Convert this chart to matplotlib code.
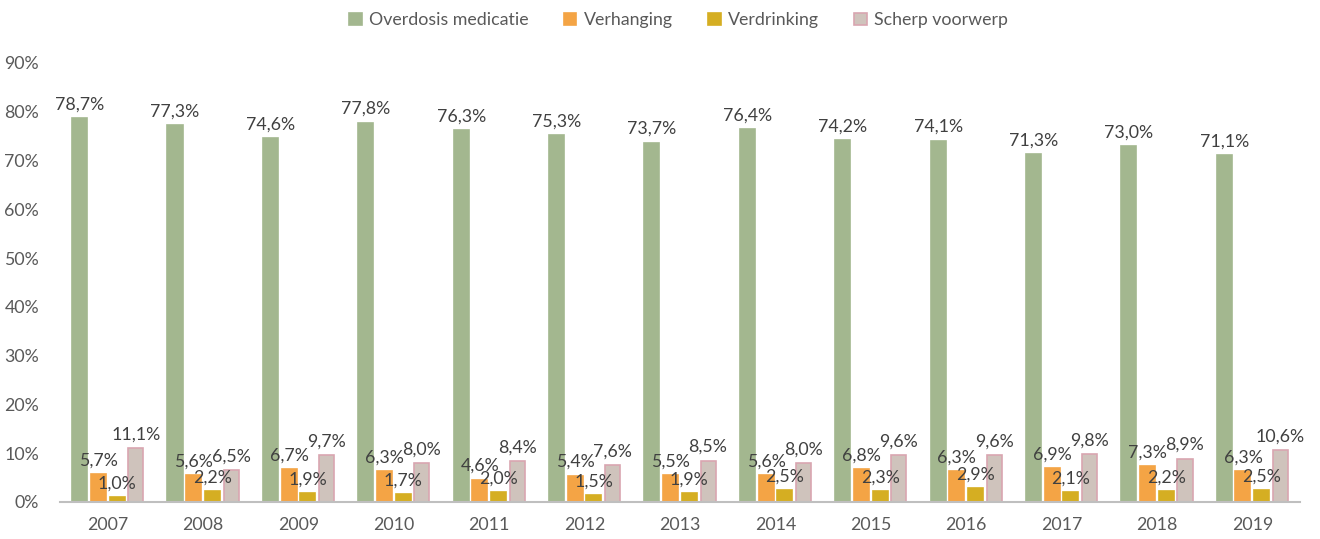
import numpy as np
import matplotlib.pyplot as plt

plt.rcParams['font.family'] = ['Lato', 'DejaVu Sans']

years = ['2007', '2008', '2009', '2010', '2011', '2012', '2013',
         '2014', '2015', '2016', '2017', '2018', '2019']
overdosis = [78.7, 77.3, 74.6, 77.8, 76.3, 75.3, 73.7, 76.4, 74.2, 74.1, 71.3, 73.0, 71.1]
verhanging = [5.7, 5.6, 6.7, 6.3, 4.6, 5.4, 5.5, 5.6, 6.8, 6.3, 6.9, 7.3, 6.3]
verdrinking = [1.0, 2.2, 1.9, 1.7, 2.0, 1.5, 1.9, 2.5, 2.3, 2.9, 2.1, 2.2, 2.5]
scherp = [11.1, 6.5, 9.7, 8.0, 8.4, 7.6, 8.5, 8.0, 9.6, 9.6, 9.8, 8.9, 10.6]

series = [
    ('Overdosis medicatie', overdosis, '#A3B78F', '#A3B78F'),
    ('Verhanging', verhanging, '#F4A445', '#F4A445'),
    ('Verdrinking', verdrinking, '#D5AE22', '#D5AE22'),
    ('Scherp voorwerp', scherp, '#CFC3BC', '#D9A6B0'),
]

fig = plt.figure(figsize=(13.2, 5.39), dpi=100)
ax = fig.add_axes([60 / 1320, 1 - 502 / 539, 1240 / 1320, (502 - 63) / 539])

x = np.arange(len(years))
width = 0.158
step = 0.196
offsets = [-1.5 * step, -0.5 * step, 0.5 * step, 1.5 * step]
text_col = '#404040'

for (name, vals, fc, ec), off in zip(series, offsets):
    bars = ax.bar(x + off, vals, width, color=fc, edgecolor=ec, linewidth=1.2, label=name)
    for b, v in zip(bars, vals):
        ax.annotate(f"{v:.1f}%".replace('.', ','),
                    (b.get_x() + b.get_width() / 2, v),
                    xytext=(0, 4), textcoords='offset points',
                    ha='center', va='bottom', fontsize=12.8, color=text_col)

ax.set_xlim(-0.5, len(years) - 0.5)
ax.set_ylim(0, 90)
ax.set_yticks(np.arange(0, 91, 10))
ax.set_yticklabels([f"{v}%" for v in range(0, 91, 10)])
ax.set_xticks(x)
ax.set_xticklabels(years)
ax.tick_params(length=0, labelsize=12.8, colors='#595959')
ax.tick_params(axis='x', pad=11)
ax.tick_params(axis='y', pad=15)

for s in ['top', 'right', 'left']:
    ax.spines[s].set_visible(False)
ax.spines['bottom'].set_color('#BFBFBF')
ax.spines['bottom'].set_linewidth(1.5)

handles, labels = ax.get_legend_handles_labels()
fig.legend(handles, labels, loc='center', bbox_to_anchor=(0.514, 1 - 20 / 539),
           ncol=4, frameon=False, fontsize=12.8, handlelength=0.7, handleheight=0.7,
           handletextpad=0.4, columnspacing=2.0, labelcolor='#595959')

fig.savefig('out.png', dpi=100)
